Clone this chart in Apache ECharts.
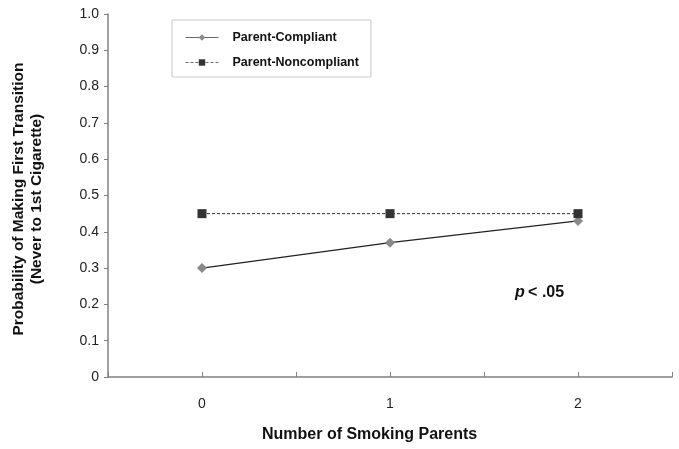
<!DOCTYPE html>
<html>
<head>
<meta charset="utf-8">
<script src="https://cdn.jsdelivr.net/npm/echarts@6/dist/echarts.min.js"></script>
<style>
  html, body { margin: 0; padding: 0; background: #fff; }
  #chart { width: 679px; height: 449px; }
</style>
</head>
<body>
<div id="chart"></div>
<script>
// data
const smokingParents = [0, 1, 2]
const parentCompliant = [0.30, 0.37, 0.43]
const parentNoncompliant = [0.45, 0.45, 0.45]
const xLabels = ['0', '1', '2']

const font = 'Arial, "Liberation Sans", Helvetica, sans-serif'
const axisGray = '#808080'

const chart = echarts.init(document.getElementById('chart'))
chart.setOption({
  animation: false,
  textStyle: { fontFamily: font },
  grid: { left: 108, right: 7, top: 14, bottom: 72 },
  legend: {
    left: 172,
    top: 20,
    orient: 'vertical',
    padding: [11, 12, 8, 13],
    itemGap: 12,
    itemWidth: 33,
    itemHeight: 8,
    borderColor: '#c8c8c8',
    borderWidth: 1,
    lineStyle: { color: '#666', width: 1 },
    textStyle: { fontFamily: font, fontSize: 12.5, fontWeight: 'bold', color: '#111', padding: [0, 0, 0, 9] },
    data: ['Parent-Compliant', 'Parent-Noncompliant']
  },
  xAxis: {
    type: 'value',
    min: -0.5,
    max: 2.5,
    interval: 0.5,
    splitLine: { show: false },
    axisLine: { onZero: false, lineStyle: { color: axisGray, width: 1.5 } },
    axisTick: { inside: true, length: 5, lineStyle: { color: axisGray } },
    axisLabel: {
      margin: 20,
      fontSize: 14,
      color: '#222',
      formatter: v => {
        const i = smokingParents.indexOf(v)
        return i >= 0 ? xLabels[i] : ''
      }
    }
  },
  yAxis: {
    type: 'value',
    min: 0,
    max: 1,
    interval: 0.1,
    splitLine: { show: false },
    axisLine: { show: true, onZero: false, lineStyle: { color: axisGray, width: 1.5 } },
    axisTick: { show: true, length: 4, lineStyle: { color: axisGray } },
    axisLabel: {
      margin: 9,
      fontSize: 14,
      color: '#222',
      formatter: v => (v === 0 ? '0' : v.toFixed(1))
    }
  },
  graphic: [
    {
      type: 'text',
      left: 262,
      top: 427,
      style: { text: 'Number of Smoking Parents', font: 'bold 16px ' + font, fill: '#111' }
    },
    {
      type: 'text',
      x: 28,
      y: 199,
      rotation: Math.PI / 2,
      style: {
        text: 'Probability of Making First Transition\n(Never to 1st Cigarette)',
        font: 'bold 15.5px ' + font,
        fill: '#111',
        align: 'center',
        verticalAlign: 'middle',
        lineHeight: 18
      }
    },
    {
      type: 'text',
      left: 515,
      top: 285,
      style: {
        text: '{p|p} {n|< .05}',
        rich: {
          p: { font: 'italic bold 16px ' + font, fill: '#111' },
          n: { font: 'bold 16px ' + font, fill: '#111' }
        }
      }
    }
  ],
  series: [
    {
      name: 'Parent-Compliant',
      type: 'line',
      data: smokingParents.map((x, i) => [x, parentCompliant[i]]),
      symbol: 'diamond',
      symbolSize: 10,
      itemStyle: { color: '#8a8a8a' },
      lineStyle: { color: '#222', width: 1.3 }
    },
    {
      name: 'Parent-Noncompliant',
      type: 'line',
      data: smokingParents.map((x, i) => [x, parentNoncompliant[i]]),
      symbol: 'rect',
      symbolSize: 9,
      itemStyle: { color: '#333' },
      lineStyle: { color: '#333', width: 1, type: [3, 2] }
    }
  ]
})
</script>
</body>
</html>
